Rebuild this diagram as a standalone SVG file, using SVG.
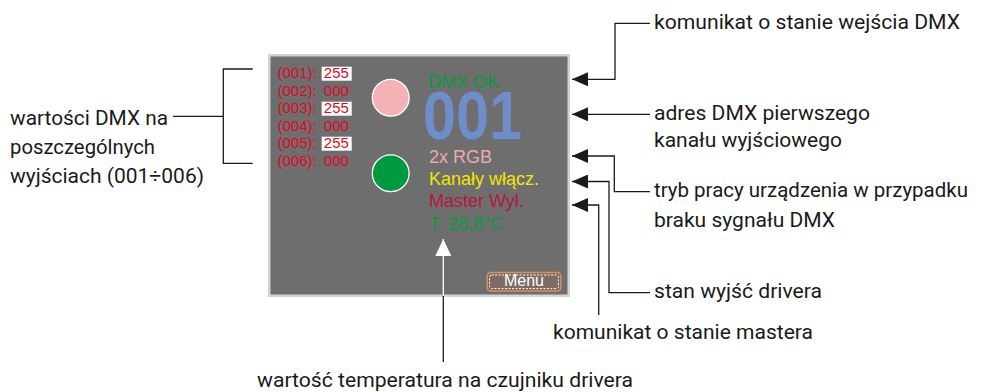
<svg xmlns="http://www.w3.org/2000/svg" width="983" height="392" viewBox="0 0 983 392">
<defs>
<style>
.lbl{font-family:Roboto,"Liberation Sans",sans-serif;font-size:20px;fill:#1a1a1a}
.scr{font-family:"Liberation Sans",Arial,sans-serif}
.red{font-size:15px;fill:#e1061f}
.st{font-size:18px}
.con{fill:none;stroke:#1a1a1a;stroke-width:1.3}
.box{fill:#ffffff}
</style>
<marker id="ah" viewBox="0 0 16 14" refX="16" refY="7" markerWidth="16" markerHeight="14" markerUnits="userSpaceOnUse" orient="auto">
<path d="M0,0 L16,7 L0,14 z" fill="#1a1a1a"/>
</marker>
<marker id="wh" viewBox="0 0 16 17" refX="17" refY="8" markerWidth="16" markerHeight="17" markerUnits="userSpaceOnUse" orient="auto">
<path d="M0,0 L17,8 L0,16 z" fill="#ffffff"/>
</marker>
</defs>
<rect width="983" height="392" fill="#ffffff"/>

<g id="screen">
<rect x="269.25" y="55.25" width="299.5" height="240.5" fill="#6e6e6e" stroke="#d3d3d3" stroke-width="2.5"/>
</g>

<g id="dmx-values" class="scr red">
<rect class="box" x="321.7" y="66.7" width="30" height="14"/>
<rect class="box" x="321.7" y="101.7" width="30" height="14"/>
<rect class="box" x="321.7" y="136.7" width="30" height="14"/>
<text x="277.5" y="78.3">(001):</text><text x="323.8" y="78.3">255</text>
<text x="277.5" y="95.8">(002):</text><text x="323.8" y="95.8">000</text>
<text x="277.5" y="113.3">(003):</text><text x="323.8" y="113.3">255</text>
<text x="277.5" y="130.8">(004):</text><text x="323.8" y="130.8">000</text>
<text x="277.5" y="148.3">(005):</text><text x="323.8" y="148.3">255</text>
<text x="277.5" y="165.8">(006):</text><text x="323.8" y="165.8">000</text>
</g>

<g id="led-dmx"><circle cx="390.7" cy="97.7" r="18.4" fill="#f4b2b5" stroke="#ffffff" stroke-width="1.3"/></g>
<g id="led-out"><circle cx="390.7" cy="173.3" r="18.4" fill="#009a3e" stroke="#ffffff" stroke-width="1.3"/></g>

<g id="status" class="scr st">
<text x="428" y="87.7" fill="#0c9a3c">DMX OK</text>
<text x="423" y="139" font-size="68" font-weight="bold" fill="#6f8ccb" textLength="99" lengthAdjust="spacingAndGlyphs">001</text>
<text x="429" y="162.7" fill="#f0a8b0">2x RGB</text>
<text x="429" y="184.5" fill="#f3e600">Kanały włącz.</text>
<text x="429" y="206.7" fill="#b6183c">Master Wył.</text>
<text x="429" y="229.5" fill="#0c9a3c">T: 28.8°C</text>
</g>

<g id="menu">
<rect x="487.2" y="272.6" width="73.6" height="18.4" rx="3.5" fill="#7e6b64" stroke="#d9914f" stroke-width="1.5"/>
<rect x="489.6" y="275" width="68.8" height="13.6" rx="2" fill="none" stroke="#ffffff" stroke-width="1" stroke-dasharray="2,1.5"/>
<text x="524" y="286.3" class="scr" font-size="16" fill="#ffffff" text-anchor="middle">Menu</text>
</g>

<g id="connectors">
<path class="con" d="M252.7,69 H223.3 V163.3 H252.7 M173,116.3 H223.3"/>
<path class="con" d="M650,23.3 H615 V79.3 H572" marker-end="url(#ah)"/>
<path class="con" d="M650,114.3 H572" marker-end="url(#ah)"/>
<path class="con" d="M650,191.7 H614.3 V156 H572" marker-end="url(#ah)"/>
<path class="con" d="M650,292.7 H609 V181.5 H572" marker-end="url(#ah)"/>
<path class="con" d="M598.7,315 V205 H572" marker-end="url(#ah)"/>
<path class="con" d="M443.3,362 V295"/>
<path d="M443.3,296 V239" fill="none" stroke="#ffffff" stroke-width="1.3" marker-end="url(#wh)"/>
</g>

<g id="labels" class="lbl">
<text x="10" y="124.5" textLength="158" lengthAdjust="spacingAndGlyphs">wartości DMX na</text>
<text x="10" y="153.5" textLength="145" lengthAdjust="spacingAndGlyphs">poszczególnych</text>
<text x="10" y="182.5" textLength="194" lengthAdjust="spacingAndGlyphs">wyjściach (001÷006)</text>
<text x="654" y="29.3" textLength="306" lengthAdjust="spacingAndGlyphs">komunikat o stanie wejścia DMX</text>
<text x="654" y="120" textLength="216" lengthAdjust="spacingAndGlyphs">adres DMX pierwszego</text>
<text x="654" y="147.3" textLength="188" lengthAdjust="spacingAndGlyphs">kanału wyjściowego</text>
<text x="654" y="196.8" textLength="314" lengthAdjust="spacingAndGlyphs">tryb pracy urządzenia w przypadku</text>
<text x="654" y="226.5" textLength="181" lengthAdjust="spacingAndGlyphs">braku sygnału DMX</text>
<text x="654" y="297.5" textLength="168" lengthAdjust="spacingAndGlyphs">stan wyjść drivera</text>
<text x="553" y="339" textLength="260" lengthAdjust="spacingAndGlyphs">komunikat o stanie mastera</text>
<text x="257" y="386.5" textLength="376" lengthAdjust="spacingAndGlyphs">wartość temperatura na czujniku drivera</text>
</g>
</svg>
